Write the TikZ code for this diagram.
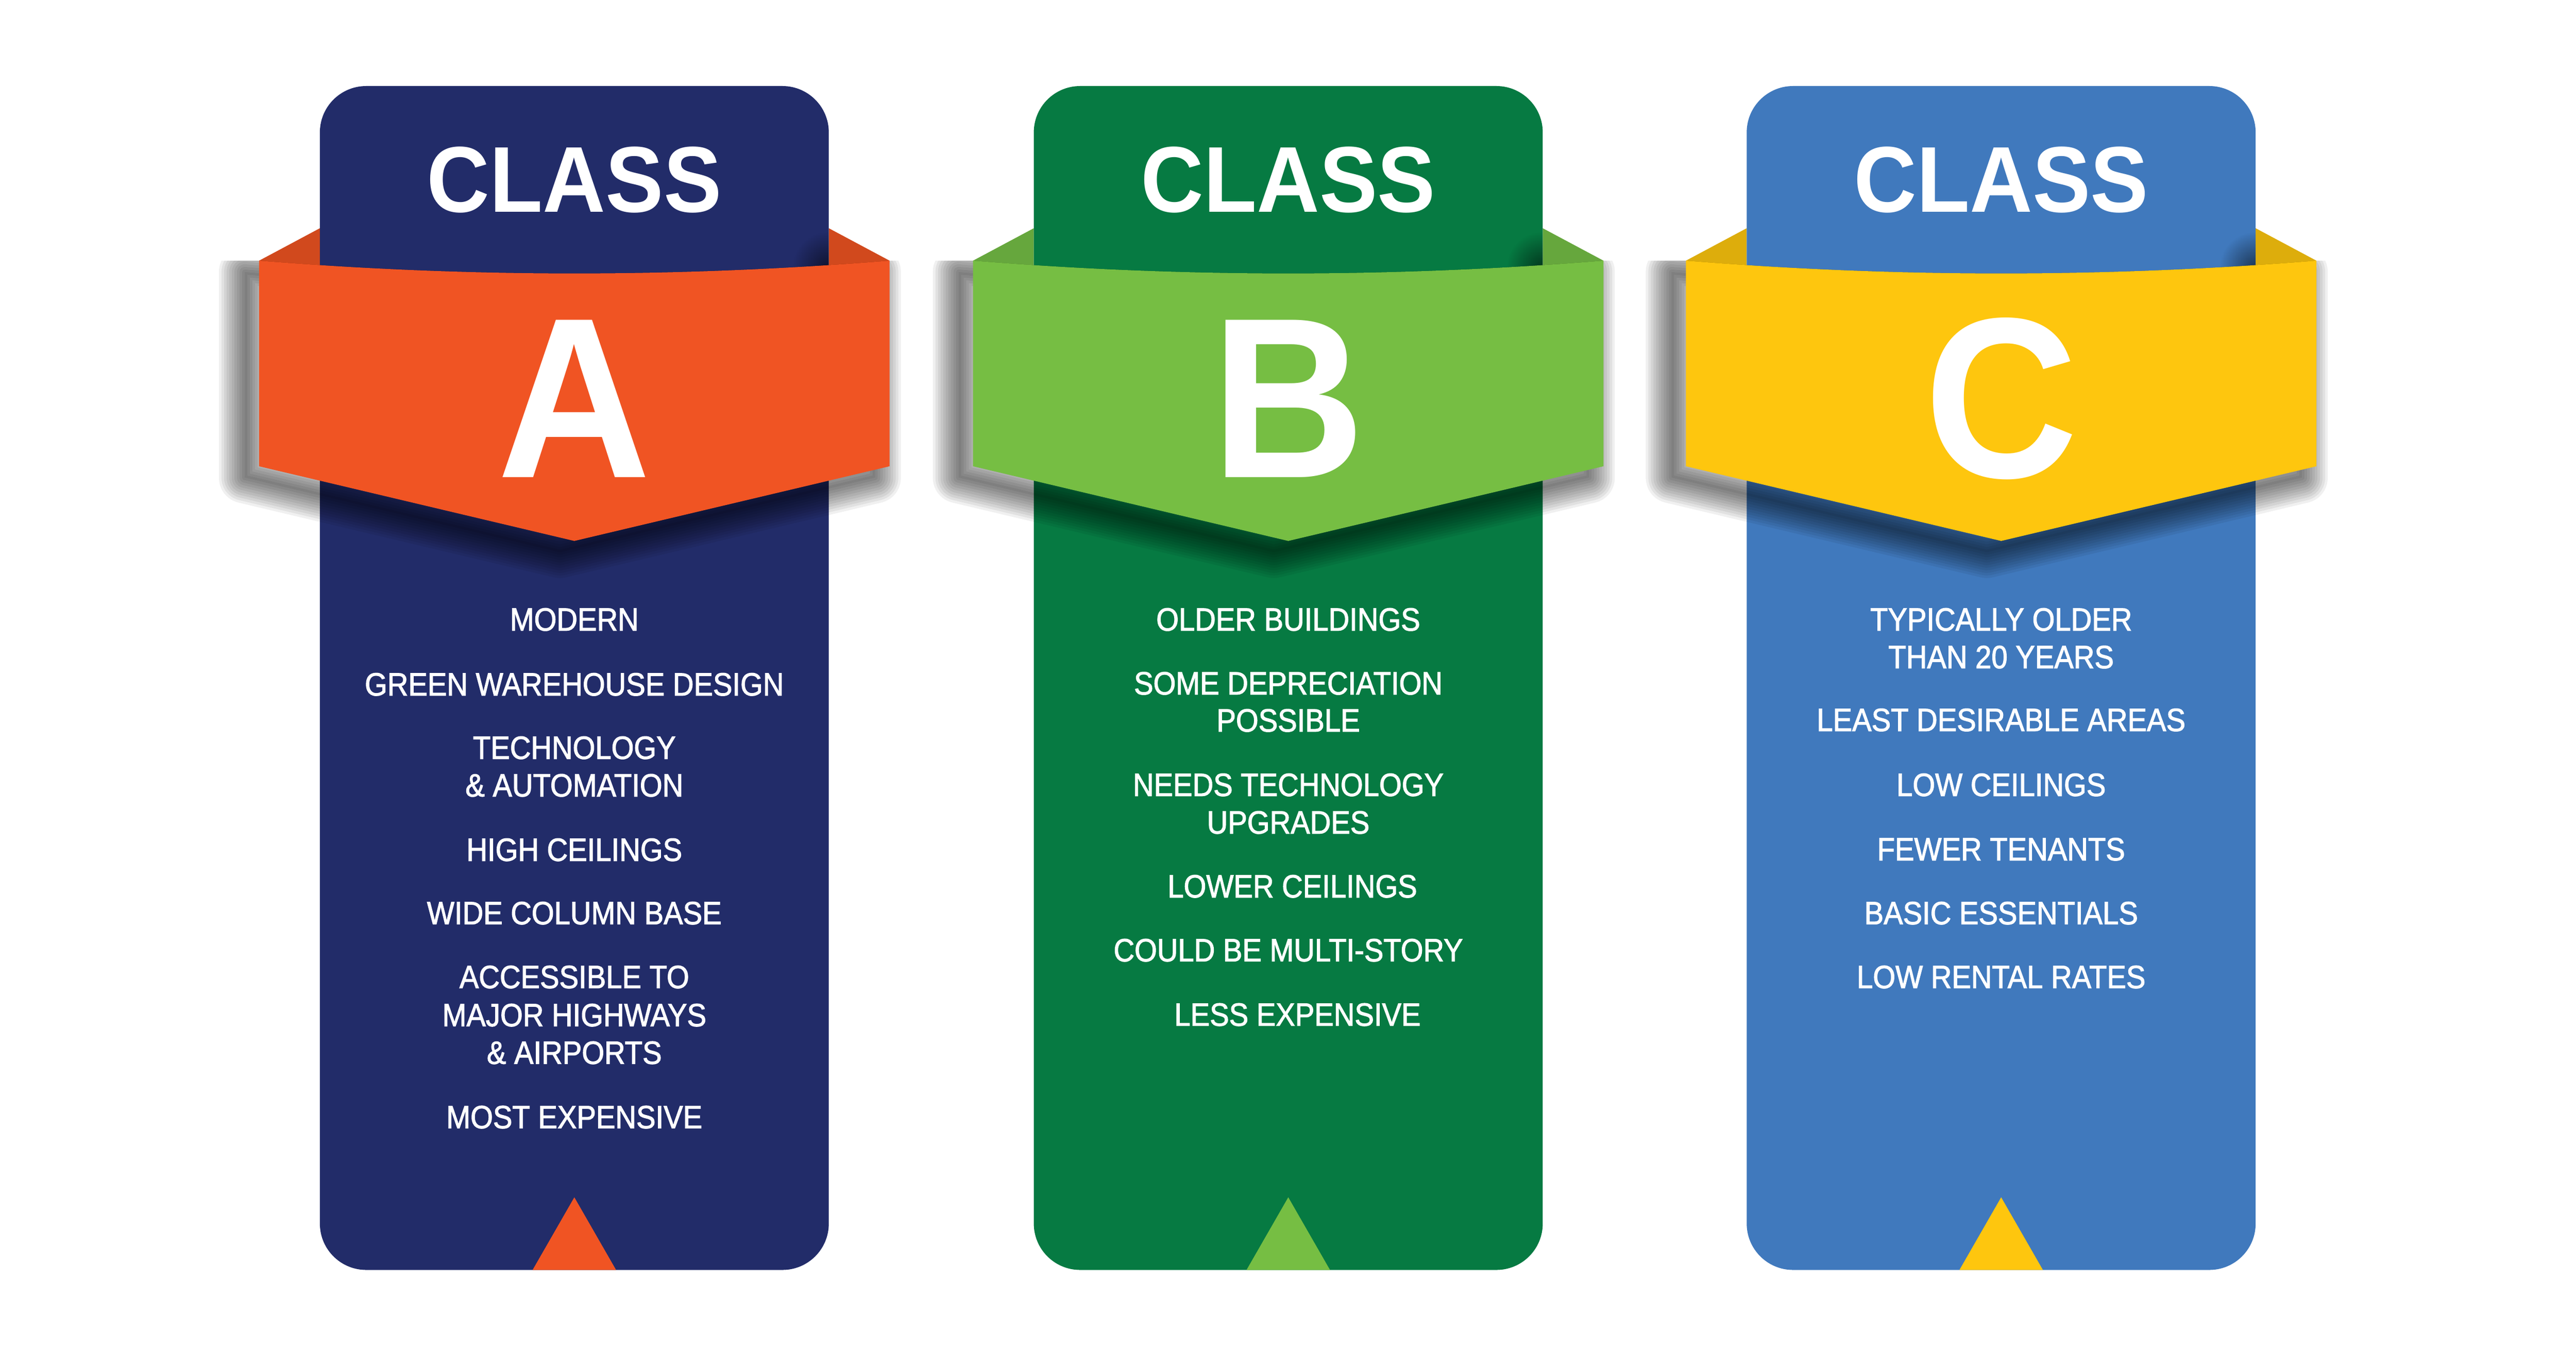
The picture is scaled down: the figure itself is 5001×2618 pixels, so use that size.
\documentclass[tikz,border=0pt]{standalone}
\usepackage{fontspec}
\usetikzlibrary{fadings}
\setmainfont{Liberation Sans}
\newfontfamily\headfont[FakeStretch=0.93]{Liberation Sans Bold}
\newfontfamily\bodyfont[FakeStretch=0.9,FakeBold=1.8]{Liberation Sans}
\definecolor{panelA}{HTML}{222C69}
\definecolor{bandA}{HTML}{F05423}
\definecolor{flapA}{HTML}{D1491D}
\definecolor{panelB}{HTML}{067A42}
\definecolor{bandB}{HTML}{76BE43}
\definecolor{flapB}{HTML}{66A73D}
\definecolor{panelC}{HTML}{4079BD}
\definecolor{bandC}{HTML}{FEC60E}
\definecolor{flapC}{HTML}{DDAD0C}
\tikzfading[name=spotfade, inner color=transparent!0, outer color=transparent!100]
\tikzset{
  headtext/.style={font=\headfont\fontsize{36.3}{36}\selectfont, text=white, anchor=base, inner sep=0pt},
  lettertext/.style={font=\headfont\fontsize{88.8}{88}\selectfont, text=white, anchor=base, inner sep=0pt},
  bodytext/.style={font=\bodyfont\fontsize{12.5}{14}\selectfont, text=white, anchor=base, inner sep=0pt},
  shadowlayer/.style={draw=black, opacity=0.06, line join=round, line width=#1},
  shadowcore/.style={fill=black, opacity=0.06},
}
% band outline (in column-local coordinates)
\newcommand\bandpath{(-612,506) .. controls (-204,539) and (204,539) .. (612,506) -- (612,905) -- (0,1050) -- (-612,905) -- cycle}
\newcommand\classcol[6]{%
  \begin{scope}[shift={(#1,0)}]
    \fill[#4] (-612,506) -- (-494,443) -- (-494,560) -- cycle;
    \fill[#4] (612,506) -- (494,443) -- (494,560) -- cycle;
    \fill[#2, rounded corners=18pt] (-494,167) rectangle (494,2465);
    \fill[#3] (-81,2465) -- (0,2324) -- (81,2465) -- cycle;
    % shade on the panel where the band meets its right edge
    \begin{scope}
      \clip (-494,400) rectangle (494,530);
      \fill[black, opacity=0.55, path fading=spotfade] (494,520) circle (70);
    \end{scope}
    % soft drop shadow of the band
    \begin{scope}
      \clip (-800,506) -- (-612,506) .. controls (-204,539) and (204,539) .. (612,506) -- (800,506) -- (800,1250) -- (-800,1250) -- cycle;
      \begin{scope}[shift={(-28,22)}]
        \path[shadowcore] \bandpath;
        \foreach \w in {2pt,4pt,6pt,8pt,10pt,12pt,14pt,16pt,18pt,20pt} {
          \path[shadowlayer=\w] \bandpath;
        }
      \end{scope}
    \end{scope}
    \fill[#3] \bandpath;
    \node[headtext] (#6class) at (0,412) {CLASS};
    \node[lettertext] (#6letter) at (0,927) {#5};
  \end{scope}}
\begin{document}
\begin{tikzpicture}[x=0.2pt,y=-0.2pt]
\useasboundingbox (0,0) rectangle (5001,2618);
\fill[white] (0,0) rectangle (5001,2618);
\classcol{1115}{panelA}{bandA}{flapA}{A}{a}
\classcol{2501}{panelB}{bandB}{flapB}{B}{b}
\classcol{3885}{panelC}{bandC}{flapC}{C}{c}
% Class A
\node[bodytext] (a1) at (1115,1224) {MODERN};
\node[bodytext] (a2) at (1115,1350) {GREEN WAREHOUSE DESIGN};
\node[bodytext] (a3) at (1115,1473) {TECHNOLOGY};
\node[bodytext] (a4) at (1115,1546) {\& AUTOMATION};
\node[bodytext] (a5) at (1115,1671) {HIGH CEILINGS};
\node[bodytext] (a6) at (1115,1794) {WIDE COLUMN BASE};
\node[bodytext] (a7) at (1115,1918) {ACCESSIBLE TO};
\node[bodytext] (a8) at (1115,1992) {MAJOR HIGHWAYS};
\node[bodytext] (a9) at (1115,2065) {\& AIRPORTS};
\node[bodytext] (a10) at (1115,2190) {MOST EXPENSIVE};
% Class B
\node[bodytext] (b1) at (2501,1224) {OLDER BUILDINGS};
\node[bodytext] (b2) at (2501,1348) {SOME DEPRECIATION};
\node[bodytext] (b3) at (2501,1420) {POSSIBLE};
\node[bodytext] (b4) at (2501,1545) {NEEDS TECHNOLOGY};
\node[bodytext] (b5) at (2501,1618) {UPGRADES};
\node[bodytext] (b6) at (2509,1742) {LOWER CEILINGS};
\node[bodytext] (b7) at (2501,1866) {COULD BE MULTI-STORY};
\node[bodytext] (b8) at (2519,1991) {LESS EXPENSIVE};
% Class C
\node[bodytext] (c1) at (3885,1224) {TYPICALLY OLDER};
\node[bodytext] (c2) at (3885,1297) {THAN 20 YEARS};
\node[bodytext] (c3) at (3885,1419) {LEAST DESIRABLE AREAS};
\node[bodytext] (c4) at (3885,1545) {LOW CEILINGS};
\node[bodytext] (c5) at (3885,1670) {FEWER TENANTS};
\node[bodytext] (c6) at (3885,1794) {BASIC ESSENTIALS};
\node[bodytext] (c7) at (3885,1918) {LOW RENTAL RATES};
\end{tikzpicture}
\end{document}
